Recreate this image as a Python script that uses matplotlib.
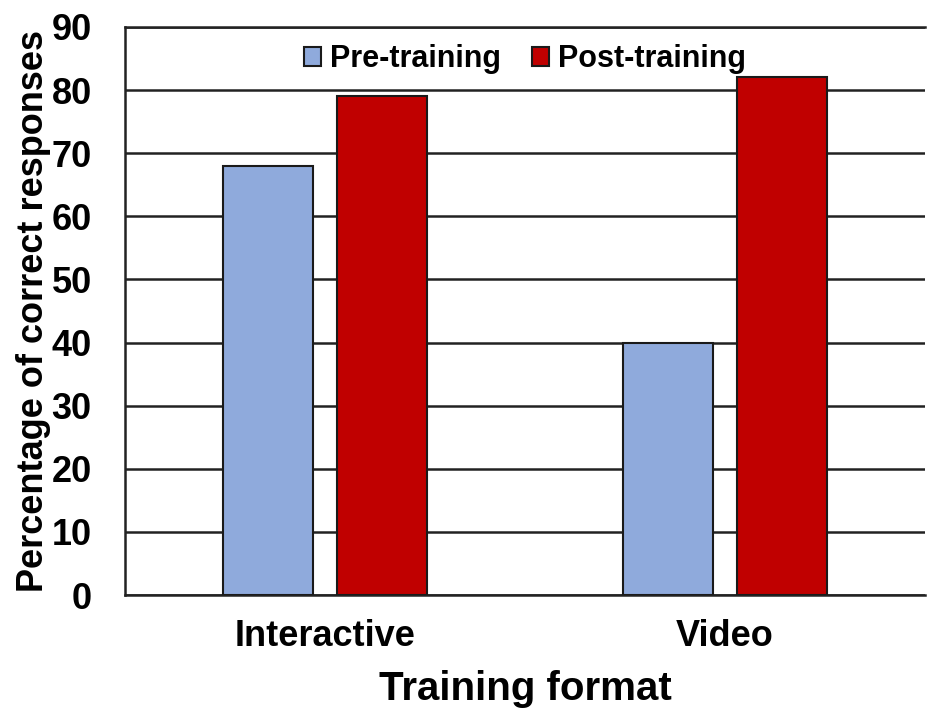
import matplotlib
matplotlib.use('Agg')
import matplotlib.pyplot as plt
import numpy as np

plt.rcParams['font.family'] = ['Liberation Sans', 'DejaVu Sans']
plt.rcParams['font.weight'] = 'bold'

formats = ['Interactive', 'Video']
preTraining = [68, 40]
postTraining = [79, 82]
seriesNames = ['Pre-training', 'Post-training']
yTicks = [0, 10, 20, 30, 40, 50, 60, 70, 80, 90]

blue = '#8FAADC'
red = '#C00000'

fig = plt.figure(figsize=(9.28, 7.08), dpi=100)
ax = fig.add_axes([0.1347, 0.1596, 0.862, 0.8023])

x = np.arange(len(formats))
width = 0.225
offset = 0.143
ax.bar(x - offset, preTraining, width, color=blue, edgecolor='#1a1a1a',
       linewidth=1.5, label=seriesNames[0], zorder=3)
ax.bar(x + offset, postTraining, width, color=red, edgecolor='#1a1a1a',
       linewidth=1.5, label=seriesNames[1], zorder=3)

ax.set_xlim(-0.5, 1.5)
ax.set_ylim(0, 90)
ax.set_yticks(yTicks)
ax.set_xticks(x)
ax.set_xticklabels(formats)
ax.tick_params(axis='both', length=0, labelsize=26)
ax.tick_params(axis='y', pad=24)
ax.tick_params(axis='x', pad=17)
for lab in ax.get_xticklabels() + ax.get_yticklabels():
    lab.set_fontweight('bold')

ax.yaxis.grid(True, color='#222222', linewidth=1.8, zorder=0)
ax.set_axisbelow(True)
ax.spines['right'].set_visible(False)
for side in ['top', 'left', 'bottom']:
    ax.spines[side].set_color('#222222')
    ax.spines[side].set_linewidth(1.8)

ax.set_ylabel('Percentage of correct responses', fontsize=26,
              fontweight='bold', labelpad=0)
ax.set_xlabel('Training format', fontsize=29, fontweight='bold', labelpad=12)

leg = ax.legend(loc='center', bbox_to_anchor=(0.5, 0.943), ncol=2,
                frameon=False, fontsize=22, handlelength=0.55,
                handleheight=0.55, handletextpad=0.3, columnspacing=1.0,
                borderaxespad=0)
for t in leg.get_texts():
    t.set_fontweight('bold')

fig.savefig('out.png', dpi=100)
